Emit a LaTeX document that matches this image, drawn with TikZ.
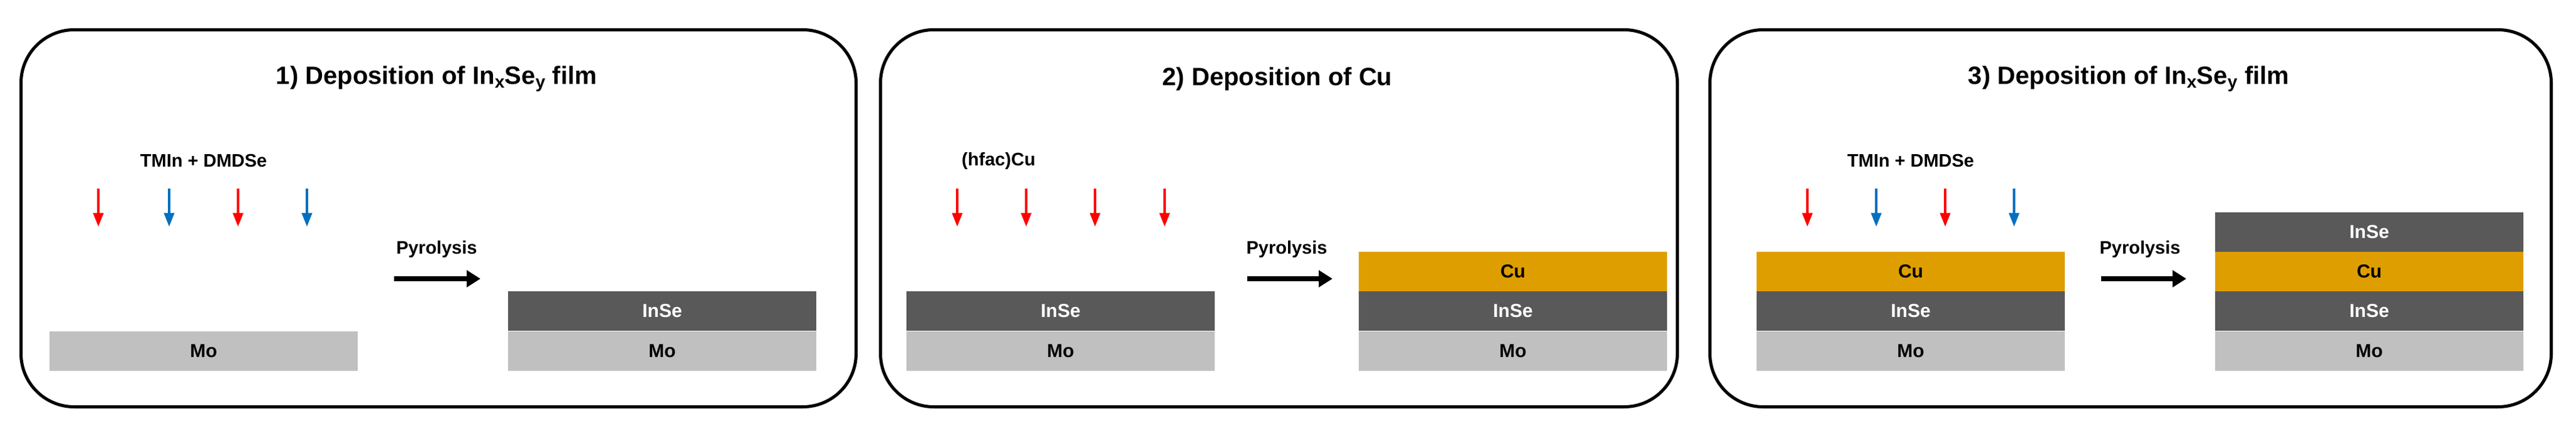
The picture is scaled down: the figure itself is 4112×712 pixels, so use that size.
\documentclass[tikz,border=0pt]{standalone}
\usepackage{fontspec}
\setmainfont{Liberation Sans}
\usetikzlibrary{arrows.meta}
\definecolor{inse}{HTML}{595959}
\definecolor{mo}{HTML}{C0C0C0}
\definecolor{cu}{HTML}{DF9E00}
\definecolor{bl}{HTML}{0070C0}
\begin{document}
\begin{tikzpicture}[x=1pt,y=-1pt,
 panel/.style={draw,line width=5pt,rounded corners=85pt},
 layer/.style={draw=none,minimum width=492pt,minimum height=63pt,inner sep=0pt,font=\fontsize{30}{30}\selectfont\bfseries},
 mo/.style={layer,fill=mo,text=black},
 inse/.style={layer,fill=inse,text=white},
 cu/.style={layer,fill=cu,text=black},
 ttl/.style={font=\fontsize{40}{40}\selectfont\bfseries},
 lbl/.style={font=\fontsize{29}{29}\selectfont\bfseries},
 dep/.style={line width=4pt,-{Triangle[length=22pt,width=16pt]}},
 pyr/.style={line width=8pt,-{Triangle[length=22pt,width=26pt]}}]
\useasboundingbox (0,0) rectangle (4112,712);
\node[panel,minimum width=1333pt,minimum height=602pt,anchor=north west] (p1) at (31,45) {};
\node[panel,minimum width=1272pt,minimum height=602pt,anchor=north west] (p2) at (1403,45) {};
\node[panel,minimum width=1343pt,minimum height=602pt,anchor=north west] (p3) at (2727,45) {};
% panel 1
\node[ttl] (t1) at (697,126) {1) Deposition of In$_{\mathbf{x}}$Se$_{\mathbf{y}}$ film};
\node[lbl] (g1) at (325,257) {TMIn + DMDSe};
\foreach \x/\c [count=\i] in {157/red,270/bl,380/red,490/bl}{
 \coordinate (a1s\i) at (\x,301); \coordinate (a1e\i) at (\x,362);
 \draw[dep,\c] (a1s\i) -- (a1e\i);}
\node[mo] (m1a) at (325,560) {Mo};
\node[lbl] (y1) at (697,398) {Pyrolysis};
\coordinate (y1s) at (629,445); \coordinate (y1e) at (767,445);
\draw[pyr] (y1s) -- (y1e);
\node[mo] (m1b) at (1057,560) {Mo};
\node[inse] (i1b) at (1057,496) {InSe};
% panel 2
\node[ttl] (t2) at (2039,126) {2) Deposition of Cu};
\node[lbl] (g2) at (1594,257) {(hfac)Cu};
\foreach \x [count=\i] in {1528,1638,1748,1859}{
 \coordinate (a2s\i) at (\x,301); \coordinate (a2e\i) at (\x,362);
 \draw[dep,red] (a2s\i) -- (a2e\i);}
\node[mo] (m2a) at (1693,560) {Mo};
\node[inse] (i2a) at (1693,496) {InSe};
\node[lbl] (y2) at (2054,398) {Pyrolysis};
\coordinate (y2s) at (1991,445); \coordinate (y2e) at (2127,445);
\draw[pyr] (y2s) -- (y2e);
\node[mo] (m2b) at (2415,560) {Mo};
\node[inse] (i2b) at (2415,496) {InSe};
\node[cu] (c2b) at (2415,433) {Cu};
% panel 3
\node[ttl] (t3) at (3398,126) {3) Deposition of In$_{\mathbf{x}}$Se$_{\mathbf{y}}$ film};
\node[lbl] (g3) at (3050,257) {TMIn + DMDSe};
\foreach \x/\c [count=\i] in {2885/red,2995/bl,3105/red,3215/bl}{
 \coordinate (a3s\i) at (\x,301); \coordinate (a3e\i) at (\x,362);
 \draw[dep,\c] (a3s\i) -- (a3e\i);}
\node[mo] (m3a) at (3050,560) {Mo};
\node[inse] (i3a) at (3050,496) {InSe};
\node[cu] (c3a) at (3050,433) {Cu};
\node[lbl] (y3) at (3416,398) {Pyrolysis};
\coordinate (y3s) at (3354,445); \coordinate (y3e) at (3490,445);
\draw[pyr] (y3s) -- (y3e);
\node[mo] (m3b) at (3782,560) {Mo};
\node[inse] (i3b) at (3782,496) {InSe};
\node[cu] (c3b) at (3782,433) {Cu};
\node[inse] (j3b) at (3782,370) {InSe};
\end{tikzpicture}
\end{document}
